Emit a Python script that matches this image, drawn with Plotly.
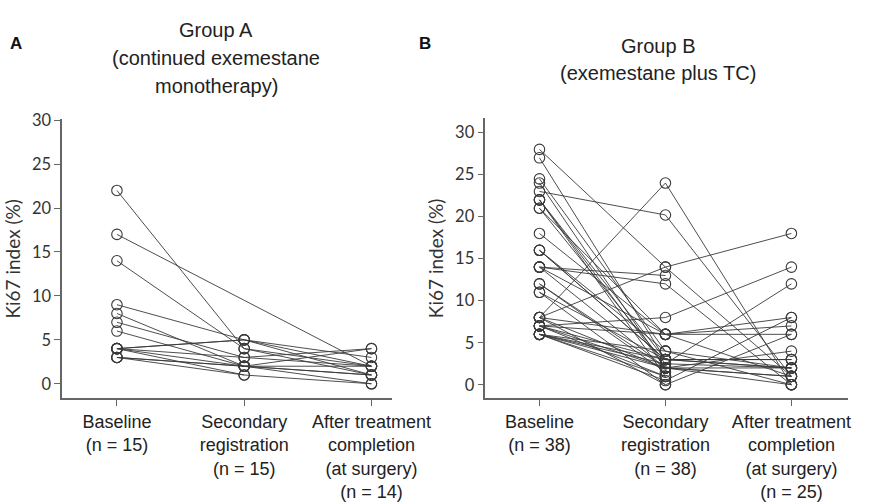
import plotly.graph_objects as go

categories = ["Baseline", "Secondary registration", "After treatment completion"]
tick_text_a = ["Baseline<br>(n = 15)", "Secondary<br>registration<br>(n = 15)",
               "After treatment<br>completion<br>(at surgery)<br>(n = 14)"]
tick_text_b = ["Baseline<br>(n = 38)", "Secondary<br>registration<br>(n = 38)",
               "After treatment<br>completion<br>(at surgery)<br>(n = 25)"]

# Group A (per patient)
a_base = [22, 17, 14, 9, 8, 7, 6, 4, 4, 4, 4, 4, 3, 3, 3]
a_sec = [4, None, 4, 5, 2, 3, 2, 5, 5, 3, 2, 1, 2, 1, 2]
a_after = [2, 2, 1, 2, 1, 2, 0, 3, 1, 4, 2, 0, 4, None, 1]

# Group B (per patient)
b_base = [28, 27, 24.5, 24, 23, 22, 22, 21, 21, 18, 16, 16, 14, 14, 14, 12, 12, 11, 8, 8,
          8, 8, 8, 7, 7, 7, 7, 6, 6, 6, 6, 6, 6, 22, 16, 7, 11, 14]
b_sec = [14, 3, 4, 2, 20.2, 3, 1, 2.5, 6, 6, 4, 3, 13, 12, 2, 2, 1.5, 3, 24, 14,
         6, 0, 2, 8, 6, 3, 1, 2.5, 0.5, 2, 4, 1, 3, 2, 3, 2, 0, 6]
b_after = [1, None, 2, None, 1, 3, None, 2, None, 1, None, 2, None, 0, 4, 2, None, 3, 0, 18,
           7, 6, None, 14, 6, 2, None, 12, 8, 1, 0, None, 3, 0, None, 1, None, 8]

line_color = "#3a3a3a"
fig = go.Figure()


def add_group(base, sec, after, xa, ya):
    for b, s, a in zip(base, sec, after):
        xs, ys = [], []
        for cat, v in zip(categories, [b, s, a]):
            if v is not None:
                xs.append(categories.index(cat))
                ys.append(v)
        fig.add_trace(go.Scatter(
            x=xs, y=ys, mode="lines+markers", xaxis=xa, yaxis=ya,
            line=dict(color=line_color, width=0.9),
            marker=dict(symbol="circle-open", size=10.5, color=line_color, line=dict(width=1.1)),
            showlegend=False, hoverinfo="skip"))


add_group(a_base, a_sec, a_after, "x", "y")
add_group(b_base, b_sec, b_after, "x2", "y2")

ytick_font = dict(family="Lato, Open Sans, sans-serif", size=16.5, color="#333")
ytitle_font = dict(family="Lato, Open Sans, sans-serif", size=19, color="#333")
xtick_font = dict(family="Liberation Sans, Arial, sans-serif", size=18, color="#222")
axis_common = dict(showgrid=False, zeroline=False, showline=True, linecolor="#666", linewidth=1.5,
                   ticks="outside", ticklen=6, tickcolor="#666", tickwidth=1)

fig.update_layout(
    width=888, height=502, margin=dict(l=0, r=0, t=0, b=0),
    paper_bgcolor="white", plot_bgcolor="white",
    xaxis=dict(domain=[65 / 888, 410 / 888], range=[-0.43, 2.165], anchor="y",
               tickmode="array", tickvals=[0, 1, 2], ticktext=tick_text_a,
               tickfont=xtick_font, **axis_common),
    yaxis=dict(domain=[1 - 399 / 502, 1 - 113 / 502], range=[-1.67, 30.1], anchor="x",
               tickmode="array", tickvals=[0, 5, 10, 15, 20, 25, 30],
               tickfont=ytick_font,
               title=dict(text="Ki67 index (%)", font=ytitle_font, standoff=6),
               **axis_common),
    xaxis2=dict(domain=[507 / 888, 886 / 888], range=[-0.43, 2.45], anchor="y2",
                tickmode="array", tickvals=[0, 1, 2], ticktext=tick_text_b,
                tickfont=xtick_font, **axis_common),
    yaxis2=dict(domain=[1 - 399 / 502, 1 - 112 / 502], range=[-1.63, 31.7], anchor="x2",
                tickmode="array", tickvals=[0, 5, 10, 15, 20, 25, 30],
                tickfont=ytick_font,
                title=dict(text="Ki67 index (%)", font=ytitle_font, standoff=6),
                **axis_common),
)

title_font = dict(family="Liberation Sans, Arial, sans-serif", size=20, color="#222")
titles = [("Group A", 226, 22), ("(continued exemestane", 226, 50), ("monotherapy)", 226, 79),
          ("Group B", 687, 38), ("(exemestane plus TC)", 687, 66)]
for txt, xp, yp in titles:
    fig.add_annotation(text=txt, x=xp / 888, y=1 - yp / 502, xref="paper", yref="paper",
                       showarrow=False, xanchor="center", yanchor="middle", font=title_font)
for txt, xp, yp in [("A", 17, 35), ("B", 444, 35)]:
    fig.add_annotation(text="<b>%s</b>" % txt, x=xp / 888, y=1 - yp / 502, xref="paper", yref="paper",
                       showarrow=False, xanchor="center", yanchor="middle",
                       font=dict(family="Liberation Sans, Arial, sans-serif", size=17, color="#111"))

fig.write_html("out.html")
